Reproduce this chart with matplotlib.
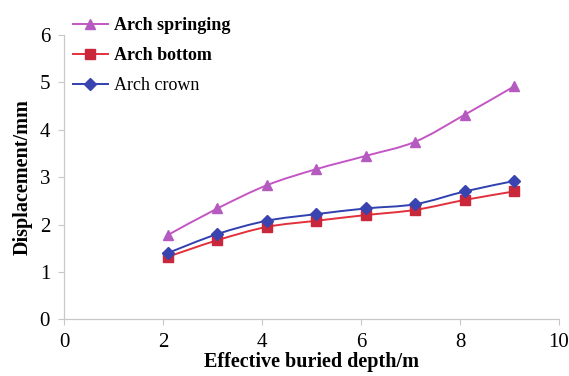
import numpy as np
import matplotlib
matplotlib.use("Agg")
import matplotlib.pyplot as plt
from matplotlib.path import Path
from matplotlib.patches import PathPatch
from matplotlib.lines import Line2D

plt.rcParams["font.family"] = ["Liberation Serif", "DejaVu Serif"]

depth = [2.1, 3.1, 4.1, 5.1, 6.1, 7.1, 8.1, 9.1]
arch_springing = [1.78, 2.34, 2.83, 3.17, 3.45, 3.75, 4.32, 4.92]
arch_bottom = [1.32, 1.67, 1.95, 2.08, 2.20, 2.31, 2.52, 2.70]
arch_crown = [1.40, 1.80, 2.08, 2.22, 2.34, 2.43, 2.70, 2.92]

x_ticks = [0, 2, 4, 6, 8, 10]
y_ticks = [0, 1, 2, 3, 4, 5, 6]

series = [
    ("Arch springing", arch_springing, "#c455c4", "#b55bc0", "^", "bold"),
    ("Arch bottom", arch_bottom, "#e2303c", "#c8283a", "s", "bold"),
    ("Arch crown", arch_crown, "#3040b0", "#3a44b0", "D", "normal"),
]


def smooth_path(xs, ys):
    """Catmull-Rom style cubic Bezier through the points."""
    pts = np.column_stack([xs, ys]).astype(float)
    verts = [pts[0]]
    codes = [Path.MOVETO]
    n = len(pts)
    for i in range(n - 1):
        p0 = pts[i - 1] if i > 0 else pts[i]
        p1 = pts[i]
        p2 = pts[i + 1]
        p3 = pts[i + 2] if i + 2 < n else pts[i + 1]
        c1 = p1 + (p2 - p0) / 6.0
        c2 = p2 - (p3 - p1) / 6.0
        verts += [c1, c2, p2]
        codes += [Path.CURVE4] * 3
    return Path(verts, codes)


fig = plt.figure(figsize=(5.69, 3.76), dpi=100)
ax = fig.add_axes([0.1125, 0.1508, 0.8699, 0.7561])

handles = []
for label, vals, lc, mc, mk, _ in series:
    ms = 7.5 if mk == "^" else (6.5 if mk == "s" else 6)
    ax.add_patch(PathPatch(smooth_path(depth, vals), facecolor="none",
                           edgecolor=lc, lw=1.4, zorder=2))
    ax.plot(depth, vals, linestyle="none", marker=mk, markersize=ms,
            markerfacecolor=mc, markeredgecolor=mc, zorder=3)
    handles.append(Line2D([], [], color=lc, lw=1.4, marker=mk, markersize=ms,
                          markerfacecolor=mc, markeredgecolor=mc))

ax.set_xlim(0, 10)
ax.set_ylim(0, 6)
ax.set_xticks(x_ticks)
ax.set_yticks(y_ticks)
ax.tick_params(axis="both", labelsize=15, color="#c8c8c8", length=4, width=0.8)
ax.tick_params(axis="x", pad=6)
ax.tick_params(axis="y", pad=6)

for s in ("top", "right"):
    ax.spines[s].set_visible(False)
for s in ("left", "bottom"):
    ax.spines[s].set_color("#c8c8c8")
    ax.spines[s].set_linewidth(0.9)

ax.set_xlabel("Effective buried depth/m", fontsize=14.5, fontweight="bold", labelpad=0)
ax.set_ylabel("Displacement/mm", fontsize=14.5, fontweight="bold", labelpad=5)

leg = ax.legend(handles, [s[0] for s in series], loc="upper left",
                bbox_to_anchor=(-0.008, 1.108), frameon=False, fontsize=13,
                handlelength=1.95, handletextpad=0.33, labelspacing=0.72,
                borderaxespad=0.3)
for txt, s in zip(leg.get_texts(), series):
    txt.set_fontweight(s[5])

fig.savefig("out.png", dpi=100)
